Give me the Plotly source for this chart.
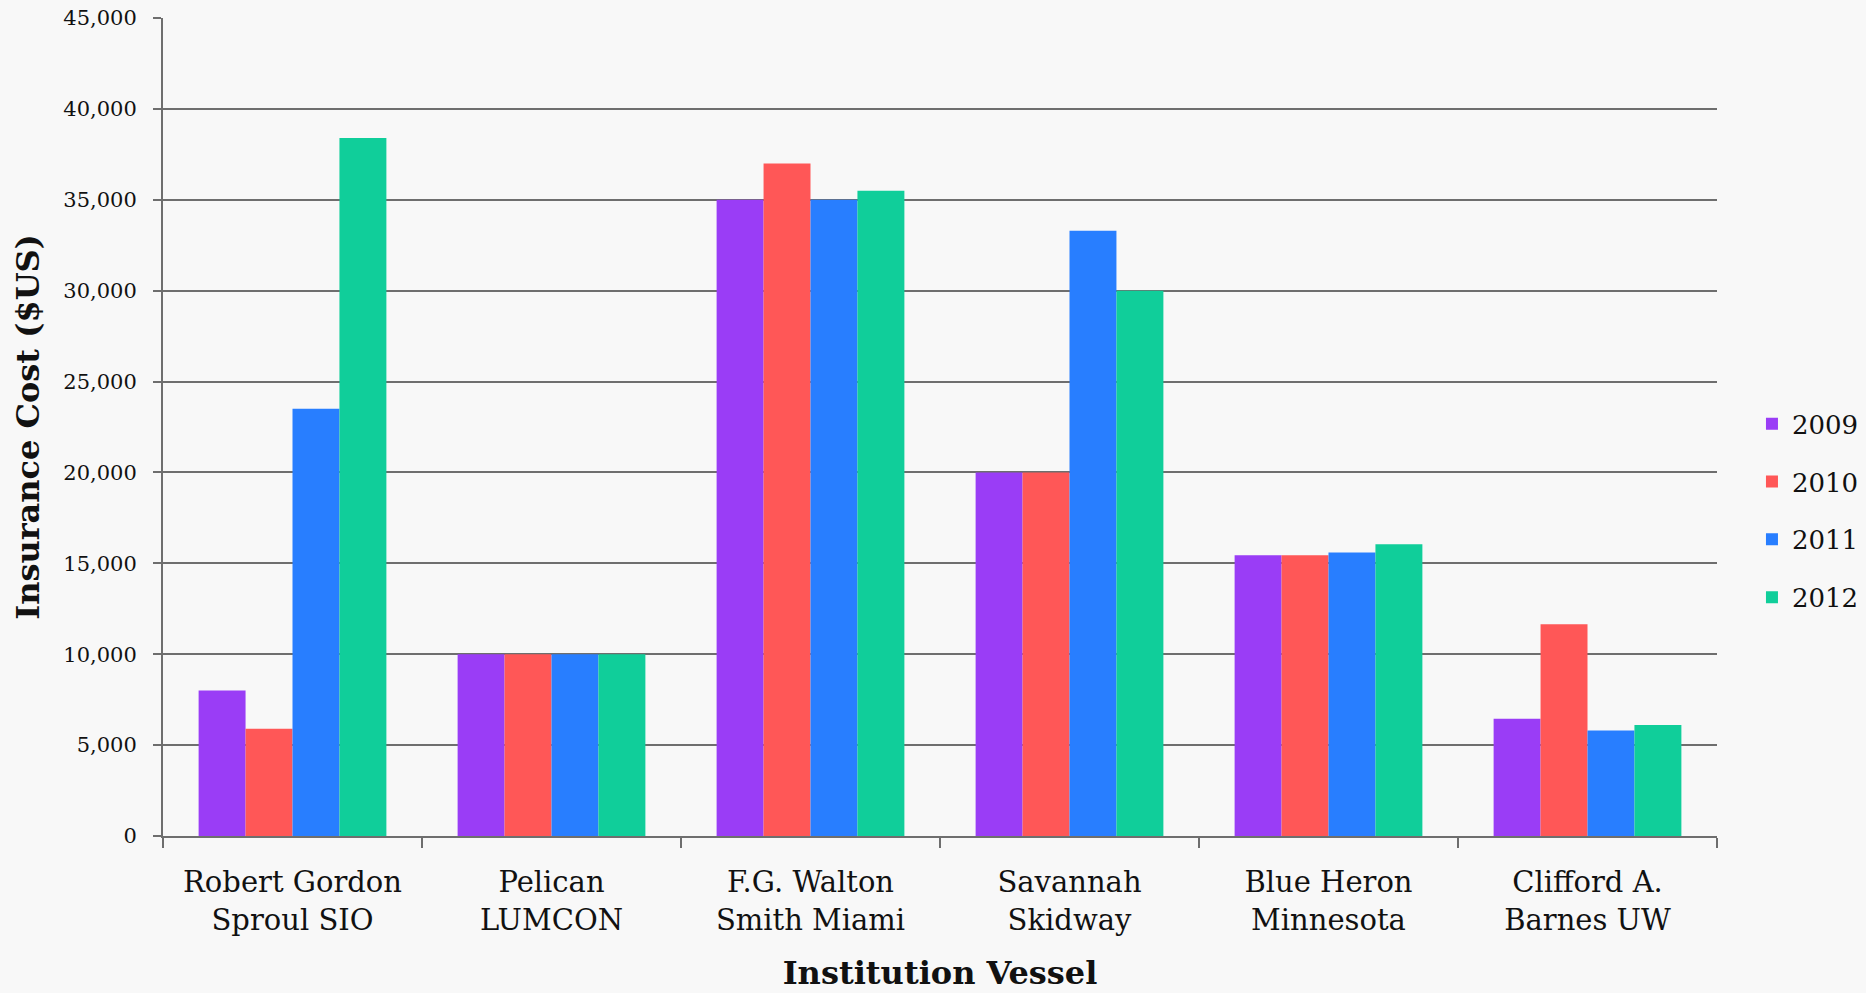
import plotly.graph_objects as go

# Vessels (institution + ship), shown as two-line category labels
vessels = [
    "Robert Gordon<br>Sproul SIO",
    "Pelican<br>LUMCON",
    "F.G. Walton<br>Smith Miami",
    "Savannah<br>Skidway",
    "Blue Heron<br>Minnesota",
    "Clifford A.<br>Barnes UW",
]

years = ["2009", "2010", "2011", "2012"]

# Annual insurance cost per vessel (US dollars)
cost_2009 = [8000, 10000, 35000, 20000, 15450, 6450]
cost_2010 = [5900, 10000, 37000, 20000, 15450, 11650]
cost_2011 = [23500, 10000, 35000, 33300, 15600, 5800]
cost_2012 = [38400, 10000, 35500, 30000, 16050, 6100]

series = [cost_2009, cost_2010, cost_2011, cost_2012]
colors = ["#9A3DF6", "#FF5757", "#287EFF", "#10CE9A"]

y_ticks = [0, 5000, 10000, 15000, 20000, 25000, 30000, 35000, 40000, 45000]

SERIF = "DejaVu Serif, Liberation Serif, serif"
GRID = "#6e6e6e"

fig = go.Figure()
for name, vals, col in zip(years, series, colors):
    fig.add_trace(go.Bar(
        name=name,
        x=vessels,
        y=vals,
        marker=dict(color=col, line=dict(width=0)),
        legendgroup=name,
        hovertemplate="%{x}<br>" + name + ": $%{y:,}<extra></extra>",
    ))

fig.update_layout(
    width=1866,
    height=993,
    margin=dict(l=163, r=149, t=18, b=157, autoexpand=False),
    paper_bgcolor="#f8f8f8",
    plot_bgcolor="#f8f8f8",
    barmode="group",
    bargap=0.275,
    bargroupgap=0,
    font=dict(family=SERIF, color="#111111"),
    legend=dict(
        x=1.0225,
        xanchor="left",
        y=0.3975,
        yanchor="middle",
        traceorder="grouped",
        tracegroupgap=21,
        font=dict(family=SERIF, size=26, color="#111111"),
        bgcolor="rgba(0,0,0,0)",
        itemclick=False,
    ),
    showlegend=True,
)

fig.update_xaxes(
    type="category",
    automargin=False,
    showline=True,
    linecolor=GRID,
    linewidth=2,
    ticks="outside",
    tickson="boundaries",
    ticklen=10,
    tickwidth=2,
    tickcolor=GRID,
    showgrid=False,
    ticklabelstandoff=19,
    tickfont=dict(family=SERIF, size=29, color="#111111"),
    title=dict(
        text="<b>Institution Vessel</b>",
        font=dict(family=SERIF, size=32, color="#111111"),
        standoff=26,
    ),
)

fig.update_yaxes(
    range=[0, 45000],
    automargin=False,
    tickvals=y_ticks,
    tickformat=",d",
    showline=True,
    linecolor=GRID,
    linewidth=2,
    ticks="outside",
    ticklen=8,
    tickwidth=2,
    tickcolor=GRID,
    showgrid=True,
    gridcolor=GRID,
    gridwidth=2,
    zeroline=False,
    ticklabelstandoff=12,
    tickfont=dict(family=SERIF, size=21, color="#111111"),
    title=dict(
        text="<b>Insurance Cost ($US)</b>",
        font=dict(family=SERIF, size=32, color="#111111"),
        standoff=14,
    ),
)

fig.write_html("out.html")
